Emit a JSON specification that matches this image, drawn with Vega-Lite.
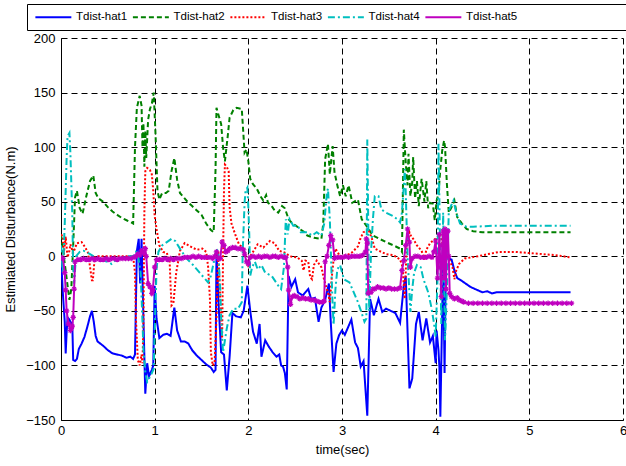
{
"$schema": "https://vega.github.io/schema/vega-lite/v6.json",
"width": 562, "height": 382,
"autosize": {"type": "none"},
"padding": {"left": 61, "top": 38, "right": 3, "bottom": 46},
"background": "white",
"config": {"font": "Liberation Sans", "view": {"stroke": null}},
"datasets": {
"d": [
{"s":"Tdist-hat1","t":0,"v":0},{"s":"Tdist-hat1","t":0.02,"v":-34},{"s":"Tdist-hat1","t":0.04,"v":-60},{"s":"Tdist-hat1","t":0.05,"v":-89},{"s":"Tdist-hat1","t":0.06,"v":-70},{"s":"Tdist-hat1","t":0.07,"v":-56},{"s":"Tdist-hat1","t":0.09,"v":-58},{"s":"Tdist-hat1","t":0.11,"v":-62},{"s":"Tdist-hat1","t":0.12,"v":-60},{"s":"Tdist-hat1","t":0.13,"v":-95},{"s":"Tdist-hat1","t":0.15,"v":-96},{"s":"Tdist-hat1","t":0.17,"v":-94},{"s":"Tdist-hat1","t":0.19,"v":-85},{"s":"Tdist-hat1","t":0.22,"v":-80},{"s":"Tdist-hat1","t":0.25,"v":-74},{"s":"Tdist-hat1","t":0.28,"v":-65},{"s":"Tdist-hat1","t":0.31,"v":-55},{"s":"Tdist-hat1","t":0.33,"v":-50},{"s":"Tdist-hat1","t":0.35,"v":-60},{"s":"Tdist-hat1","t":0.37,"v":-73},{"s":"Tdist-hat1","t":0.39,"v":-78},{"s":"Tdist-hat1","t":0.42,"v":-80},{"s":"Tdist-hat1","t":0.45,"v":-82},{"s":"Tdist-hat1","t":0.5,"v":-86},{"s":"Tdist-hat1","t":0.55,"v":-89},{"s":"Tdist-hat1","t":0.6,"v":-90},{"s":"Tdist-hat1","t":0.65,"v":-91},{"s":"Tdist-hat1","t":0.7,"v":-93},{"s":"Tdist-hat1","t":0.74,"v":-92},{"s":"Tdist-hat1","t":0.77,"v":-94},{"s":"Tdist-hat1","t":0.79,"v":-90},{"s":"Tdist-hat1","t":0.81,"v":5},{"s":"Tdist-hat1","t":0.83,"v":16},{"s":"Tdist-hat1","t":0.845,"v":-25},{"s":"Tdist-hat1","t":0.86,"v":16},{"s":"Tdist-hat1","t":0.88,"v":-57},{"s":"Tdist-hat1","t":0.9,"v":-126},{"s":"Tdist-hat1","t":0.92,"v":-98},{"s":"Tdist-hat1","t":0.94,"v":-110},{"s":"Tdist-hat1","t":0.97,"v":-104},{"s":"Tdist-hat1","t":0.985,"v":-100},{"s":"Tdist-hat1","t":1.0,"v":-27},{"s":"Tdist-hat1","t":1.02,"v":-57},{"s":"Tdist-hat1","t":1.05,"v":-75},{"s":"Tdist-hat1","t":1.09,"v":-72},{"s":"Tdist-hat1","t":1.13,"v":-71},{"s":"Tdist-hat1","t":1.17,"v":-73},{"s":"Tdist-hat1","t":1.21,"v":-47},{"s":"Tdist-hat1","t":1.24,"v":-68},{"s":"Tdist-hat1","t":1.28,"v":-78},{"s":"Tdist-hat1","t":1.32,"v":-78},{"s":"Tdist-hat1","t":1.36,"v":-80},{"s":"Tdist-hat1","t":1.4,"v":-86},{"s":"Tdist-hat1","t":1.45,"v":-91},{"s":"Tdist-hat1","t":1.5,"v":-95},{"s":"Tdist-hat1","t":1.55,"v":-99},{"s":"Tdist-hat1","t":1.6,"v":-102},{"s":"Tdist-hat1","t":1.63,"v":-106},{"s":"Tdist-hat1","t":1.65,"v":-104},{"s":"Tdist-hat1","t":1.66,"v":5},{"s":"Tdist-hat1","t":1.68,"v":-40},{"s":"Tdist-hat1","t":1.71,"v":-88},{"s":"Tdist-hat1","t":1.74,"v":-90},{"s":"Tdist-hat1","t":1.77,"v":-123},{"s":"Tdist-hat1","t":1.8,"v":-92},{"s":"Tdist-hat1","t":1.83,"v":-52},{"s":"Tdist-hat1","t":1.87,"v":-55},{"s":"Tdist-hat1","t":1.92,"v":-56},{"s":"Tdist-hat1","t":1.95,"v":-50},{"s":"Tdist-hat1","t":1.99,"v":-27},{"s":"Tdist-hat1","t":2.02,"v":-50},{"s":"Tdist-hat1","t":2.05,"v":-69},{"s":"Tdist-hat1","t":2.09,"v":-80},{"s":"Tdist-hat1","t":2.12,"v":-62},{"s":"Tdist-hat1","t":2.14,"v":-92},{"s":"Tdist-hat1","t":2.18,"v":-77},{"s":"Tdist-hat1","t":2.22,"v":-83},{"s":"Tdist-hat1","t":2.26,"v":-88},{"s":"Tdist-hat1","t":2.3,"v":-92},{"s":"Tdist-hat1","t":2.33,"v":-90},{"s":"Tdist-hat1","t":2.35,"v":-100},{"s":"Tdist-hat1","t":2.37,"v":-101},{"s":"Tdist-hat1","t":2.39,"v":-107},{"s":"Tdist-hat1","t":2.41,"v":-122},{"s":"Tdist-hat1","t":2.43,"v":-18},{"s":"Tdist-hat1","t":2.46,"v":-28},{"s":"Tdist-hat1","t":2.5,"v":-21},{"s":"Tdist-hat1","t":2.53,"v":-33},{"s":"Tdist-hat1","t":2.58,"v":-36},{"s":"Tdist-hat1","t":2.64,"v":-30},{"s":"Tdist-hat1","t":2.67,"v":-39},{"s":"Tdist-hat1","t":2.71,"v":-38},{"s":"Tdist-hat1","t":2.75,"v":-60},{"s":"Tdist-hat1","t":2.78,"v":-47},{"s":"Tdist-hat1","t":2.82,"v":-40},{"s":"Tdist-hat1","t":2.86,"v":-25},{"s":"Tdist-hat1","t":2.88,"v":-60},{"s":"Tdist-hat1","t":2.91,"v":-106},{"s":"Tdist-hat1","t":2.94,"v":-80},{"s":"Tdist-hat1","t":2.97,"v":-72},{"s":"Tdist-hat1","t":3.0,"v":-68},{"s":"Tdist-hat1","t":3.03,"v":-72},{"s":"Tdist-hat1","t":3.06,"v":-66},{"s":"Tdist-hat1","t":3.1,"v":-58},{"s":"Tdist-hat1","t":3.14,"v":-79},{"s":"Tdist-hat1","t":3.17,"v":-84},{"s":"Tdist-hat1","t":3.2,"v":-101},{"s":"Tdist-hat1","t":3.23,"v":-96},{"s":"Tdist-hat1","t":3.27,"v":-146},{"s":"Tdist-hat1","t":3.3,"v":-39},{"s":"Tdist-hat1","t":3.34,"v":-54},{"s":"Tdist-hat1","t":3.39,"v":-39},{"s":"Tdist-hat1","t":3.43,"v":-51},{"s":"Tdist-hat1","t":3.47,"v":-48},{"s":"Tdist-hat1","t":3.52,"v":-50},{"s":"Tdist-hat1","t":3.57,"v":-52},{"s":"Tdist-hat1","t":3.62,"v":-61},{"s":"Tdist-hat1","t":3.66,"v":-27},{"s":"Tdist-hat1","t":3.68,"v":-18},{"s":"Tdist-hat1","t":3.72,"v":-121},{"s":"Tdist-hat1","t":3.75,"v":-112},{"s":"Tdist-hat1","t":3.79,"v":-62},{"s":"Tdist-hat1","t":3.82,"v":-51},{"s":"Tdist-hat1","t":3.86,"v":-77},{"s":"Tdist-hat1","t":3.9,"v":-57},{"s":"Tdist-hat1","t":3.94,"v":-79},{"s":"Tdist-hat1","t":3.97,"v":-73},{"s":"Tdist-hat1","t":4.0,"v":-98},{"s":"Tdist-hat1","t":4.01,"v":-68},{"s":"Tdist-hat1","t":4.03,"v":-86},{"s":"Tdist-hat1","t":4.04,"v":-102},{"s":"Tdist-hat1","t":4.05,"v":-147},{"s":"Tdist-hat1","t":4.07,"v":-50},{"s":"Tdist-hat1","t":4.08,"v":-1},{"s":"Tdist-hat1","t":4.095,"v":-107},{"s":"Tdist-hat1","t":4.11,"v":-1},{"s":"Tdist-hat1","t":4.14,"v":-2},{"s":"Tdist-hat1","t":4.17,"v":-3},{"s":"Tdist-hat1","t":4.2,"v":-13},{"s":"Tdist-hat1","t":4.23,"v":-20},{"s":"Tdist-hat1","t":4.27,"v":-22},{"s":"Tdist-hat1","t":4.32,"v":-25},{"s":"Tdist-hat1","t":4.37,"v":-28},{"s":"Tdist-hat1","t":4.42,"v":-30},{"s":"Tdist-hat1","t":4.5,"v":-33},{"s":"Tdist-hat1","t":4.55,"v":-32},{"s":"Tdist-hat1","t":4.6,"v":-34},{"s":"Tdist-hat1","t":4.65,"v":-33},{"s":"Tdist-hat1","t":4.7,"v":-33},{"s":"Tdist-hat1","t":5.0,"v":-33},{"s":"Tdist-hat1","t":5.44,"v":-33},

{"s":"Tdist-hat2","t":0,"v":20},{"s":"Tdist-hat2","t":0.03,"v":0},{"s":"Tdist-hat2","t":0.06,"v":-20},{"s":"Tdist-hat2","t":0.09,"v":-40},{"s":"Tdist-hat2","t":0.11,"v":-30},{"s":"Tdist-hat2","t":0.13,"v":10},{"s":"Tdist-hat2","t":0.15,"v":54},{"s":"Tdist-hat2","t":0.17,"v":60},{"s":"Tdist-hat2","t":0.2,"v":44},{"s":"Tdist-hat2","t":0.23,"v":39},{"s":"Tdist-hat2","t":0.27,"v":55},{"s":"Tdist-hat2","t":0.31,"v":69},{"s":"Tdist-hat2","t":0.345,"v":74},{"s":"Tdist-hat2","t":0.37,"v":58},{"s":"Tdist-hat2","t":0.4,"v":53},{"s":"Tdist-hat2","t":0.45,"v":50},{"s":"Tdist-hat2","t":0.5,"v":45},{"s":"Tdist-hat2","t":0.55,"v":41},{"s":"Tdist-hat2","t":0.6,"v":38},{"s":"Tdist-hat2","t":0.65,"v":35},{"s":"Tdist-hat2","t":0.7,"v":33},{"s":"Tdist-hat2","t":0.75,"v":31},{"s":"Tdist-hat2","t":0.77,"v":30},{"s":"Tdist-hat2","t":0.79,"v":100},{"s":"Tdist-hat2","t":0.81,"v":136},{"s":"Tdist-hat2","t":0.84,"v":147},{"s":"Tdist-hat2","t":0.86,"v":138},{"s":"Tdist-hat2","t":0.87,"v":100},{"s":"Tdist-hat2","t":0.88,"v":122},{"s":"Tdist-hat2","t":0.89,"v":82},{"s":"Tdist-hat2","t":0.9,"v":115},{"s":"Tdist-hat2","t":0.91,"v":90},{"s":"Tdist-hat2","t":0.93,"v":125},{"s":"Tdist-hat2","t":0.95,"v":135},{"s":"Tdist-hat2","t":0.97,"v":140},{"s":"Tdist-hat2","t":0.99,"v":150},{"s":"Tdist-hat2","t":1.01,"v":110},{"s":"Tdist-hat2","t":1.03,"v":60},{"s":"Tdist-hat2","t":1.05,"v":52},{"s":"Tdist-hat2","t":1.08,"v":58},{"s":"Tdist-hat2","t":1.12,"v":58},{"s":"Tdist-hat2","t":1.15,"v":60},{"s":"Tdist-hat2","t":1.18,"v":78},{"s":"Tdist-hat2","t":1.21,"v":90},{"s":"Tdist-hat2","t":1.24,"v":70},{"s":"Tdist-hat2","t":1.27,"v":58},{"s":"Tdist-hat2","t":1.3,"v":55},{"s":"Tdist-hat2","t":1.35,"v":50},{"s":"Tdist-hat2","t":1.4,"v":46},{"s":"Tdist-hat2","t":1.45,"v":42},{"s":"Tdist-hat2","t":1.5,"v":38},{"s":"Tdist-hat2","t":1.55,"v":30},{"s":"Tdist-hat2","t":1.6,"v":24},{"s":"Tdist-hat2","t":1.63,"v":22},{"s":"Tdist-hat2","t":1.65,"v":80},{"s":"Tdist-hat2","t":1.66,"v":136},{"s":"Tdist-hat2","t":1.68,"v":130},{"s":"Tdist-hat2","t":1.71,"v":121},{"s":"Tdist-hat2","t":1.73,"v":100},{"s":"Tdist-hat2","t":1.75,"v":87},{"s":"Tdist-hat2","t":1.78,"v":110},{"s":"Tdist-hat2","t":1.8,"v":127},{"s":"Tdist-hat2","t":1.84,"v":134},{"s":"Tdist-hat2","t":1.875,"v":136},{"s":"Tdist-hat2","t":1.93,"v":135},{"s":"Tdist-hat2","t":1.96,"v":95},{"s":"Tdist-hat2","t":1.98,"v":98},{"s":"Tdist-hat2","t":2.0,"v":87},{"s":"Tdist-hat2","t":2.02,"v":71},{"s":"Tdist-hat2","t":2.05,"v":66},{"s":"Tdist-hat2","t":2.09,"v":62},{"s":"Tdist-hat2","t":2.13,"v":55},{"s":"Tdist-hat2","t":2.16,"v":51},{"s":"Tdist-hat2","t":2.19,"v":56},{"s":"Tdist-hat2","t":2.21,"v":49},{"s":"Tdist-hat2","t":2.25,"v":46},{"s":"Tdist-hat2","t":2.28,"v":42},{"s":"Tdist-hat2","t":2.32,"v":40},{"s":"Tdist-hat2","t":2.36,"v":46},{"s":"Tdist-hat2","t":2.39,"v":44},{"s":"Tdist-hat2","t":2.43,"v":34},{"s":"Tdist-hat2","t":2.47,"v":30},{"s":"Tdist-hat2","t":2.51,"v":28},{"s":"Tdist-hat2","t":2.55,"v":25},{"s":"Tdist-hat2","t":2.6,"v":22},{"s":"Tdist-hat2","t":2.63,"v":19},{"s":"Tdist-hat2","t":2.7,"v":17},{"s":"Tdist-hat2","t":2.78,"v":16},{"s":"Tdist-hat2","t":2.8,"v":30},{"s":"Tdist-hat2","t":2.82,"v":89},{"s":"Tdist-hat2","t":2.85,"v":103},{"s":"Tdist-hat2","t":2.87,"v":75},{"s":"Tdist-hat2","t":2.9,"v":101},{"s":"Tdist-hat2","t":2.92,"v":77},{"s":"Tdist-hat2","t":2.95,"v":65},{"s":"Tdist-hat2","t":2.98,"v":55},{"s":"Tdist-hat2","t":3.01,"v":65},{"s":"Tdist-hat2","t":3.04,"v":55},{"s":"Tdist-hat2","t":3.07,"v":65},{"s":"Tdist-hat2","t":3.11,"v":49},{"s":"Tdist-hat2","t":3.17,"v":52},{"s":"Tdist-hat2","t":3.21,"v":34},{"s":"Tdist-hat2","t":3.26,"v":28},{"s":"Tdist-hat2","t":3.33,"v":19},{"s":"Tdist-hat2","t":3.4,"v":16},{"s":"Tdist-hat2","t":3.47,"v":13},{"s":"Tdist-hat2","t":3.55,"v":10},{"s":"Tdist-hat2","t":3.62,"v":7},{"s":"Tdist-hat2","t":3.64,"v":4},{"s":"Tdist-hat2","t":3.65,"v":60},{"s":"Tdist-hat2","t":3.66,"v":116},{"s":"Tdist-hat2","t":3.68,"v":86},{"s":"Tdist-hat2","t":3.7,"v":65},{"s":"Tdist-hat2","t":3.71,"v":94},{"s":"Tdist-hat2","t":3.73,"v":55},{"s":"Tdist-hat2","t":3.75,"v":68},{"s":"Tdist-hat2","t":3.76,"v":91},{"s":"Tdist-hat2","t":3.78,"v":53},{"s":"Tdist-hat2","t":3.8,"v":69},{"s":"Tdist-hat2","t":3.82,"v":46},{"s":"Tdist-hat2","t":3.85,"v":71},{"s":"Tdist-hat2","t":3.88,"v":50},{"s":"Tdist-hat2","t":3.9,"v":69},{"s":"Tdist-hat2","t":3.92,"v":44},{"s":"Tdist-hat2","t":3.94,"v":49},{"s":"Tdist-hat2","t":3.97,"v":48},{"s":"Tdist-hat2","t":3.99,"v":33},{"s":"Tdist-hat2","t":4.01,"v":51},{"s":"Tdist-hat2","t":4.03,"v":57},{"s":"Tdist-hat2","t":4.05,"v":80},{"s":"Tdist-hat2","t":4.07,"v":97},{"s":"Tdist-hat2","t":4.09,"v":106},{"s":"Tdist-hat2","t":4.1,"v":100},{"s":"Tdist-hat2","t":4.12,"v":66},{"s":"Tdist-hat2","t":4.14,"v":40},{"s":"Tdist-hat2","t":4.17,"v":45},{"s":"Tdist-hat2","t":4.2,"v":51},{"s":"Tdist-hat2","t":4.23,"v":36},{"s":"Tdist-hat2","t":4.28,"v":30},{"s":"Tdist-hat2","t":4.33,"v":25},{"s":"Tdist-hat2","t":4.4,"v":23},{"s":"Tdist-hat2","t":4.5,"v":22},{"s":"Tdist-hat2","t":5.0,"v":22},{"s":"Tdist-hat2","t":5.44,"v":22},

{"s":"Tdist-hat3","t":0,"v":20},{"s":"Tdist-hat3","t":0.02,"v":18},{"s":"Tdist-hat3","t":0.03,"v":2},{"s":"Tdist-hat3","t":0.05,"v":18},{"s":"Tdist-hat3","t":0.07,"v":-1},{"s":"Tdist-hat3","t":0.09,"v":5},{"s":"Tdist-hat3","t":0.1,"v":11},{"s":"Tdist-hat3","t":0.13,"v":3},{"s":"Tdist-hat3","t":0.17,"v":12},{"s":"Tdist-hat3","t":0.22,"v":13},{"s":"Tdist-hat3","t":0.26,"v":8},{"s":"Tdist-hat3","t":0.29,"v":3},{"s":"Tdist-hat3","t":0.31,"v":-10},{"s":"Tdist-hat3","t":0.33,"v":-22},{"s":"Tdist-hat3","t":0.34,"v":-22},{"s":"Tdist-hat3","t":0.36,"v":-1},{"s":"Tdist-hat3","t":0.4,"v":0},{"s":"Tdist-hat3","t":0.5,"v":0},{"s":"Tdist-hat3","t":0.6,"v":0},{"s":"Tdist-hat3","t":0.7,"v":0},{"s":"Tdist-hat3","t":0.77,"v":0},{"s":"Tdist-hat3","t":0.79,"v":-15},{"s":"Tdist-hat3","t":0.8,"v":-57},{"s":"Tdist-hat3","t":0.82,"v":-95},{"s":"Tdist-hat3","t":0.84,"v":-100},{"s":"Tdist-hat3","t":0.86,"v":-90},{"s":"Tdist-hat3","t":0.87,"v":-98},{"s":"Tdist-hat3","t":0.88,"v":-60},{"s":"Tdist-hat3","t":0.89,"v":40},{"s":"Tdist-hat3","t":0.9,"v":78},{"s":"Tdist-hat3","t":0.92,"v":81},{"s":"Tdist-hat3","t":0.95,"v":79},{"s":"Tdist-hat3","t":0.97,"v":75},{"s":"Tdist-hat3","t":0.985,"v":60},{"s":"Tdist-hat3","t":1.0,"v":37},{"s":"Tdist-hat3","t":1.02,"v":25},{"s":"Tdist-hat3","t":1.05,"v":10},{"s":"Tdist-hat3","t":1.09,"v":4},{"s":"Tdist-hat3","t":1.13,"v":3},{"s":"Tdist-hat3","t":1.16,"v":-5},{"s":"Tdist-hat3","t":1.17,"v":-27},{"s":"Tdist-hat3","t":1.18,"v":-45},{"s":"Tdist-hat3","t":1.2,"v":-43},{"s":"Tdist-hat3","t":1.23,"v":-15},{"s":"Tdist-hat3","t":1.27,"v":5},{"s":"Tdist-hat3","t":1.32,"v":12},{"s":"Tdist-hat3","t":1.38,"v":9},{"s":"Tdist-hat3","t":1.45,"v":6},{"s":"Tdist-hat3","t":1.51,"v":7},{"s":"Tdist-hat3","t":1.55,"v":4},{"s":"Tdist-hat3","t":1.57,"v":-9},{"s":"Tdist-hat3","t":1.59,"v":-39},{"s":"Tdist-hat3","t":1.6,"v":-88},{"s":"Tdist-hat3","t":1.62,"v":-100},{"s":"Tdist-hat3","t":1.64,"v":-98},{"s":"Tdist-hat3","t":1.66,"v":-56},{"s":"Tdist-hat3","t":1.68,"v":5},{"s":"Tdist-hat3","t":1.7,"v":-40},{"s":"Tdist-hat3","t":1.72,"v":-77},{"s":"Tdist-hat3","t":1.73,"v":0},{"s":"Tdist-hat3","t":1.74,"v":60},{"s":"Tdist-hat3","t":1.75,"v":84},{"s":"Tdist-hat3","t":1.77,"v":82},{"s":"Tdist-hat3","t":1.79,"v":78},{"s":"Tdist-hat3","t":1.8,"v":45},{"s":"Tdist-hat3","t":1.82,"v":30},{"s":"Tdist-hat3","t":1.86,"v":20},{"s":"Tdist-hat3","t":1.9,"v":11},{"s":"Tdist-hat3","t":1.95,"v":7},{"s":"Tdist-hat3","t":1.97,"v":0},{"s":"Tdist-hat3","t":2.0,"v":-10},{"s":"Tdist-hat3","t":2.02,"v":0},{"s":"Tdist-hat3","t":2.1,"v":11},{"s":"Tdist-hat3","t":2.16,"v":8},{"s":"Tdist-hat3","t":2.23,"v":14},{"s":"Tdist-hat3","t":2.28,"v":12},{"s":"Tdist-hat3","t":2.33,"v":5},{"s":"Tdist-hat3","t":2.4,"v":3},{"s":"Tdist-hat3","t":2.44,"v":0},{"s":"Tdist-hat3","t":2.52,"v":-1},{"s":"Tdist-hat3","t":2.57,"v":-4},{"s":"Tdist-hat3","t":2.59,"v":-13},{"s":"Tdist-hat3","t":2.61,"v":-4},{"s":"Tdist-hat3","t":2.64,"v":-5},{"s":"Tdist-hat3","t":2.66,"v":-19},{"s":"Tdist-hat3","t":2.68,"v":-21},{"s":"Tdist-hat3","t":2.7,"v":-8},{"s":"Tdist-hat3","t":2.73,"v":-4},{"s":"Tdist-hat3","t":2.78,"v":-10},{"s":"Tdist-hat3","t":2.81,"v":-22},{"s":"Tdist-hat3","t":2.85,"v":-33},{"s":"Tdist-hat3","t":2.87,"v":-42},{"s":"Tdist-hat3","t":2.89,"v":-20},{"s":"Tdist-hat3","t":2.91,"v":-3},{"s":"Tdist-hat3","t":2.93,"v":7},{"s":"Tdist-hat3","t":2.98,"v":0},{"s":"Tdist-hat3","t":3.05,"v":1},{"s":"Tdist-hat3","t":3.1,"v":3},{"s":"Tdist-hat3","t":3.17,"v":9},{"s":"Tdist-hat3","t":3.2,"v":17},{"s":"Tdist-hat3","t":3.23,"v":22},{"s":"Tdist-hat3","t":3.28,"v":25},{"s":"Tdist-hat3","t":3.32,"v":16},{"s":"Tdist-hat3","t":3.35,"v":7},{"s":"Tdist-hat3","t":3.42,"v":4},{"s":"Tdist-hat3","t":3.47,"v":2},{"s":"Tdist-hat3","t":3.55,"v":1},{"s":"Tdist-hat3","t":3.62,"v":-3},{"s":"Tdist-hat3","t":3.64,"v":-8},{"s":"Tdist-hat3","t":3.65,"v":-15},{"s":"Tdist-hat3","t":3.66,"v":-27},{"s":"Tdist-hat3","t":3.67,"v":-39},{"s":"Tdist-hat3","t":3.68,"v":-15},{"s":"Tdist-hat3","t":3.69,"v":7},{"s":"Tdist-hat3","t":3.72,"v":22},{"s":"Tdist-hat3","t":3.74,"v":18},{"s":"Tdist-hat3","t":3.76,"v":16},{"s":"Tdist-hat3","t":3.8,"v":10},{"s":"Tdist-hat3","t":3.85,"v":5},{"s":"Tdist-hat3","t":3.88,"v":-3},{"s":"Tdist-hat3","t":3.9,"v":6},{"s":"Tdist-hat3","t":3.94,"v":12},{"s":"Tdist-hat3","t":3.98,"v":15},{"s":"Tdist-hat3","t":4.01,"v":17},{"s":"Tdist-hat3","t":4.05,"v":20},{"s":"Tdist-hat3","t":4.08,"v":8},{"s":"Tdist-hat3","t":4.11,"v":-2},{"s":"Tdist-hat3","t":4.15,"v":-4},{"s":"Tdist-hat3","t":4.18,"v":-10},{"s":"Tdist-hat3","t":4.2,"v":-21},{"s":"Tdist-hat3","t":4.22,"v":-13},{"s":"Tdist-hat3","t":4.25,"v":-7},{"s":"Tdist-hat3","t":4.31,"v":-2},{"s":"Tdist-hat3","t":4.45,"v":0},{"s":"Tdist-hat3","t":4.56,"v":2},{"s":"Tdist-hat3","t":4.68,"v":4},{"s":"Tdist-hat3","t":4.85,"v":4},{"s":"Tdist-hat3","t":5.0,"v":3},{"s":"Tdist-hat3","t":5.14,"v":2},{"s":"Tdist-hat3","t":5.28,"v":1},{"s":"Tdist-hat3","t":5.44,"v":-1},

{"s":"Tdist-hat4","t":0,"v":10},{"s":"Tdist-hat4","t":0.02,"v":-15},{"s":"Tdist-hat4","t":0.04,"v":30},{"s":"Tdist-hat4","t":0.06,"v":90},{"s":"Tdist-hat4","t":0.07,"v":110},{"s":"Tdist-hat4","t":0.09,"v":113},{"s":"Tdist-hat4","t":0.1,"v":95},{"s":"Tdist-hat4","t":0.12,"v":40},{"s":"Tdist-hat4","t":0.13,"v":-10},{"s":"Tdist-hat4","t":0.14,"v":-25},{"s":"Tdist-hat4","t":0.16,"v":0},{"s":"Tdist-hat4","t":0.2,"v":4},{"s":"Tdist-hat4","t":0.24,"v":5},{"s":"Tdist-hat4","t":0.27,"v":4},{"s":"Tdist-hat4","t":0.31,"v":2},{"s":"Tdist-hat4","t":0.39,"v":-2},{"s":"Tdist-hat4","t":0.45,"v":-4},{"s":"Tdist-hat4","t":0.5,"v":-5},{"s":"Tdist-hat4","t":0.54,"v":-7},{"s":"Tdist-hat4","t":0.59,"v":-3},{"s":"Tdist-hat4","t":0.64,"v":-2},{"s":"Tdist-hat4","t":0.71,"v":0},{"s":"Tdist-hat4","t":0.77,"v":0},{"s":"Tdist-hat4","t":0.8,"v":4},{"s":"Tdist-hat4","t":0.82,"v":2},{"s":"Tdist-hat4","t":0.85,"v":-15},{"s":"Tdist-hat4","t":0.87,"v":-60},{"s":"Tdist-hat4","t":0.88,"v":-86},{"s":"Tdist-hat4","t":0.9,"v":-106},{"s":"Tdist-hat4","t":0.92,"v":-115},{"s":"Tdist-hat4","t":0.94,"v":-112},{"s":"Tdist-hat4","t":0.96,"v":-109},{"s":"Tdist-hat4","t":0.99,"v":-103},{"s":"Tdist-hat4","t":1.0,"v":-70},{"s":"Tdist-hat4","t":1.01,"v":-40},{"s":"Tdist-hat4","t":1.02,"v":-12},{"s":"Tdist-hat4","t":1.04,"v":4},{"s":"Tdist-hat4","t":1.08,"v":10},{"s":"Tdist-hat4","t":1.13,"v":13},{"s":"Tdist-hat4","t":1.18,"v":16},{"s":"Tdist-hat4","t":1.22,"v":14},{"s":"Tdist-hat4","t":1.27,"v":7},{"s":"Tdist-hat4","t":1.34,"v":-2},{"s":"Tdist-hat4","t":1.41,"v":-8},{"s":"Tdist-hat4","t":1.48,"v":-15},{"s":"Tdist-hat4","t":1.54,"v":-21},{"s":"Tdist-hat4","t":1.57,"v":-24},{"s":"Tdist-hat4","t":1.6,"v":-18},{"s":"Tdist-hat4","t":1.64,"v":-2},{"s":"Tdist-hat4","t":1.66,"v":7},{"s":"Tdist-hat4","t":1.68,"v":2},{"s":"Tdist-hat4","t":1.7,"v":-30},{"s":"Tdist-hat4","t":1.71,"v":-57},{"s":"Tdist-hat4","t":1.73,"v":-88},{"s":"Tdist-hat4","t":1.75,"v":-77},{"s":"Tdist-hat4","t":1.77,"v":-66},{"s":"Tdist-hat4","t":1.8,"v":-54},{"s":"Tdist-hat4","t":1.84,"v":-48},{"s":"Tdist-hat4","t":1.89,"v":-48},{"s":"Tdist-hat4","t":1.93,"v":-42},{"s":"Tdist-hat4","t":1.94,"v":4},{"s":"Tdist-hat4","t":1.96,"v":49},{"s":"Tdist-hat4","t":1.97,"v":60},{"s":"Tdist-hat4","t":1.99,"v":63},{"s":"Tdist-hat4","t":2.0,"v":45},{"s":"Tdist-hat4","t":2.01,"v":20},{"s":"Tdist-hat4","t":2.02,"v":-18},{"s":"Tdist-hat4","t":2.04,"v":-10},{"s":"Tdist-hat4","t":2.07,"v":-5},{"s":"Tdist-hat4","t":2.1,"v":-12},{"s":"Tdist-hat4","t":2.14,"v":-8},{"s":"Tdist-hat4","t":2.18,"v":-15},{"s":"Tdist-hat4","t":2.25,"v":-18},{"s":"Tdist-hat4","t":2.32,"v":-27},{"s":"Tdist-hat4","t":2.35,"v":-30},{"s":"Tdist-hat4","t":2.38,"v":-10},{"s":"Tdist-hat4","t":2.4,"v":34},{"s":"Tdist-hat4","t":2.42,"v":20},{"s":"Tdist-hat4","t":2.44,"v":34},{"s":"Tdist-hat4","t":2.48,"v":28},{"s":"Tdist-hat4","t":2.53,"v":28},{"s":"Tdist-hat4","t":2.56,"v":22},{"s":"Tdist-hat4","t":2.63,"v":22},{"s":"Tdist-hat4","t":2.68,"v":19},{"s":"Tdist-hat4","t":2.73,"v":22},{"s":"Tdist-hat4","t":2.78,"v":19},{"s":"Tdist-hat4","t":2.81,"v":30},{"s":"Tdist-hat4","t":2.84,"v":59},{"s":"Tdist-hat4","t":2.85,"v":62},{"s":"Tdist-hat4","t":2.87,"v":34},{"s":"Tdist-hat4","t":2.89,"v":-20},{"s":"Tdist-hat4","t":2.9,"v":-45},{"s":"Tdist-hat4","t":2.91,"v":-63},{"s":"Tdist-hat4","t":2.93,"v":-30},{"s":"Tdist-hat4","t":2.95,"v":-12},{"s":"Tdist-hat4","t":2.98,"v":-8},{"s":"Tdist-hat4","t":3.02,"v":-21},{"s":"Tdist-hat4","t":3.08,"v":-24},{"s":"Tdist-hat4","t":3.17,"v":-42},{"s":"Tdist-hat4","t":3.21,"v":-52},{"s":"Tdist-hat4","t":3.24,"v":-60},{"s":"Tdist-hat4","t":3.26,"v":-57},{"s":"Tdist-hat4","t":3.27,"v":107},{"s":"Tdist-hat4","t":3.28,"v":30},{"s":"Tdist-hat4","t":3.29,"v":-50},{"s":"Tdist-hat4","t":3.31,"v":4},{"s":"Tdist-hat4","t":3.33,"v":34},{"s":"Tdist-hat4","t":3.35,"v":55},{"s":"Tdist-hat4","t":3.39,"v":55},{"s":"Tdist-hat4","t":3.42,"v":43},{"s":"Tdist-hat4","t":3.47,"v":40},{"s":"Tdist-hat4","t":3.54,"v":37},{"s":"Tdist-hat4","t":3.59,"v":34},{"s":"Tdist-hat4","t":3.62,"v":31},{"s":"Tdist-hat4","t":3.64,"v":40},{"s":"Tdist-hat4","t":3.66,"v":65},{"s":"Tdist-hat4","t":3.67,"v":80},{"s":"Tdist-hat4","t":3.68,"v":60},{"s":"Tdist-hat4","t":3.7,"v":0},{"s":"Tdist-hat4","t":3.73,"v":-51},{"s":"Tdist-hat4","t":3.75,"v":-30},{"s":"Tdist-hat4","t":3.77,"v":-15},{"s":"Tdist-hat4","t":3.8,"v":-8},{"s":"Tdist-hat4","t":3.84,"v":-10},{"s":"Tdist-hat4","t":3.87,"v":-21},{"s":"Tdist-hat4","t":3.92,"v":-33},{"s":"Tdist-hat4","t":3.95,"v":-45},{"s":"Tdist-hat4","t":3.98,"v":-60},{"s":"Tdist-hat4","t":4.0,"v":-74},{"s":"Tdist-hat4","t":4.02,"v":-20},{"s":"Tdist-hat4","t":4.03,"v":103},{"s":"Tdist-hat4","t":4.04,"v":50},{"s":"Tdist-hat4","t":4.05,"v":-10},{"s":"Tdist-hat4","t":4.06,"v":-62},{"s":"Tdist-hat4","t":4.08,"v":40},{"s":"Tdist-hat4","t":4.1,"v":-77},{"s":"Tdist-hat4","t":4.12,"v":-30},{"s":"Tdist-hat4","t":4.14,"v":42},{"s":"Tdist-hat4","t":4.19,"v":51},{"s":"Tdist-hat4","t":4.22,"v":40},{"s":"Tdist-hat4","t":4.26,"v":30},{"s":"Tdist-hat4","t":4.33,"v":27},{"s":"Tdist-hat4","t":4.4,"v":27},{"s":"Tdist-hat4","t":4.6,"v":28},{"s":"Tdist-hat4","t":5.0,"v":28},{"s":"Tdist-hat4","t":5.44,"v":28},

{"s":"Tdist-hat5","t":0,"v":-1},{"s":"Tdist-hat5","t":0.02,"v":-2},{"s":"Tdist-hat5","t":0.04,"v":-15},{"s":"Tdist-hat5","t":0.05,"v":-31},{"s":"Tdist-hat5","t":0.06,"v":-50},{"s":"Tdist-hat5","t":0.08,"v":-62},{"s":"Tdist-hat5","t":0.1,"v":-68},{"s":"Tdist-hat5","t":0.11,"v":-66},{"s":"Tdist-hat5","t":0.12,"v":-64},{"s":"Tdist-hat5","t":0.13,"v":-56},{"s":"Tdist-hat5","t":0.14,"v":-30},{"s":"Tdist-hat5","t":0.15,"v":-5},{"s":"Tdist-hat5","t":0.18,"v":-3},{"s":"Tdist-hat5","t":0.21,"v":-3},{"s":"Tdist-hat5","t":0.24,"v":-2},{"s":"Tdist-hat5","t":0.27,"v":-3},{"s":"Tdist-hat5","t":0.3,"v":-3},{"s":"Tdist-hat5","t":0.33,"v":-2},{"s":"Tdist-hat5","t":0.36,"v":-3},{"s":"Tdist-hat5","t":0.39,"v":-2},{"s":"Tdist-hat5","t":0.42,"v":-3},{"s":"Tdist-hat5","t":0.45,"v":-3},{"s":"Tdist-hat5","t":0.48,"v":-2},{"s":"Tdist-hat5","t":0.51,"v":-3},{"s":"Tdist-hat5","t":0.54,"v":-2},{"s":"Tdist-hat5","t":0.57,"v":-2},{"s":"Tdist-hat5","t":0.6,"v":-3},{"s":"Tdist-hat5","t":0.63,"v":-2},{"s":"Tdist-hat5","t":0.66,"v":-2},{"s":"Tdist-hat5","t":0.69,"v":-2},{"s":"Tdist-hat5","t":0.72,"v":-2},{"s":"Tdist-hat5","t":0.75,"v":-2},{"s":"Tdist-hat5","t":0.78,"v":-1},{"s":"Tdist-hat5","t":0.8,"v":0},{"s":"Tdist-hat5","t":0.82,"v":2},{"s":"Tdist-hat5","t":0.84,"v":1},{"s":"Tdist-hat5","t":0.86,"v":5},{"s":"Tdist-hat5","t":0.88,"v":3},{"s":"Tdist-hat5","t":0.9,"v":7},{"s":"Tdist-hat5","t":0.91,"v":0},{"s":"Tdist-hat5","t":0.93,"v":-25},{"s":"Tdist-hat5","t":0.95,"v":-28},{"s":"Tdist-hat5","t":0.97,"v":-34},{"s":"Tdist-hat5","t":0.98,"v":-31},{"s":"Tdist-hat5","t":1.0,"v":-10},{"s":"Tdist-hat5","t":1.02,"v":-3},{"s":"Tdist-hat5","t":1.05,"v":-3},{"s":"Tdist-hat5","t":1.08,"v":-3},{"s":"Tdist-hat5","t":1.11,"v":-2},{"s":"Tdist-hat5","t":1.14,"v":-3},{"s":"Tdist-hat5","t":1.17,"v":-2},{"s":"Tdist-hat5","t":1.2,"v":-3},{"s":"Tdist-hat5","t":1.23,"v":-2},{"s":"Tdist-hat5","t":1.26,"v":-2},{"s":"Tdist-hat5","t":1.29,"v":-2},{"s":"Tdist-hat5","t":1.32,"v":-1},{"s":"Tdist-hat5","t":1.35,"v":-1},{"s":"Tdist-hat5","t":1.38,"v":-1},{"s":"Tdist-hat5","t":1.41,"v":0},{"s":"Tdist-hat5","t":1.44,"v":-1},{"s":"Tdist-hat5","t":1.47,"v":0},{"s":"Tdist-hat5","t":1.5,"v":-1},{"s":"Tdist-hat5","t":1.53,"v":-1},{"s":"Tdist-hat5","t":1.56,"v":-1},{"s":"Tdist-hat5","t":1.59,"v":-1},{"s":"Tdist-hat5","t":1.62,"v":-2},{"s":"Tdist-hat5","t":1.64,"v":0},{"s":"Tdist-hat5","t":1.66,"v":4},{"s":"Tdist-hat5","t":1.68,"v":-2},{"s":"Tdist-hat5","t":1.7,"v":-2},{"s":"Tdist-hat5","t":1.72,"v":13},{"s":"Tdist-hat5","t":1.74,"v":10},{"s":"Tdist-hat5","t":1.76,"v":4},{"s":"Tdist-hat5","t":1.78,"v":5},{"s":"Tdist-hat5","t":1.8,"v":7},{"s":"Tdist-hat5","t":1.83,"v":8},{"s":"Tdist-hat5","t":1.86,"v":8},{"s":"Tdist-hat5","t":1.89,"v":7},{"s":"Tdist-hat5","t":1.92,"v":7},{"s":"Tdist-hat5","t":1.95,"v":6},{"s":"Tdist-hat5","t":1.96,"v":2},{"s":"Tdist-hat5","t":1.98,"v":-5},{"s":"Tdist-hat5","t":2.0,"v":-7},{"s":"Tdist-hat5","t":2.02,"v":-1},{"s":"Tdist-hat5","t":2.05,"v":0},{"s":"Tdist-hat5","t":2.08,"v":-1},{"s":"Tdist-hat5","t":2.11,"v":0},{"s":"Tdist-hat5","t":2.14,"v":-1},{"s":"Tdist-hat5","t":2.17,"v":0},{"s":"Tdist-hat5","t":2.2,"v":0},{"s":"Tdist-hat5","t":2.23,"v":-1},{"s":"Tdist-hat5","t":2.26,"v":0},{"s":"Tdist-hat5","t":2.29,"v":0},{"s":"Tdist-hat5","t":2.32,"v":-1},{"s":"Tdist-hat5","t":2.35,"v":0},{"s":"Tdist-hat5","t":2.38,"v":-1},{"s":"Tdist-hat5","t":2.4,"v":-1},{"s":"Tdist-hat5","t":2.42,"v":-10},{"s":"Tdist-hat5","t":2.43,"v":-31},{"s":"Tdist-hat5","t":2.45,"v":-44},{"s":"Tdist-hat5","t":2.47,"v":-37},{"s":"Tdist-hat5","t":2.49,"v":-36},{"s":"Tdist-hat5","t":2.52,"v":-37},{"s":"Tdist-hat5","t":2.55,"v":-39},{"s":"Tdist-hat5","t":2.58,"v":-38},{"s":"Tdist-hat5","t":2.61,"v":-39},{"s":"Tdist-hat5","t":2.64,"v":-39},{"s":"Tdist-hat5","t":2.67,"v":-40},{"s":"Tdist-hat5","t":2.7,"v":-40},{"s":"Tdist-hat5","t":2.73,"v":-41},{"s":"Tdist-hat5","t":2.76,"v":-42},{"s":"Tdist-hat5","t":2.79,"v":-42},{"s":"Tdist-hat5","t":2.81,"v":-41},{"s":"Tdist-hat5","t":2.82,"v":-5},{"s":"Tdist-hat5","t":2.84,"v":0},{"s":"Tdist-hat5","t":2.86,"v":10},{"s":"Tdist-hat5","t":2.88,"v":19},{"s":"Tdist-hat5","t":2.9,"v":15},{"s":"Tdist-hat5","t":2.92,"v":-2},{"s":"Tdist-hat5","t":2.95,"v":-1},{"s":"Tdist-hat5","t":2.98,"v":-1},{"s":"Tdist-hat5","t":3.01,"v":-1},{"s":"Tdist-hat5","t":3.04,"v":0},{"s":"Tdist-hat5","t":3.07,"v":-1},{"s":"Tdist-hat5","t":3.1,"v":0},{"s":"Tdist-hat5","t":3.13,"v":0},{"s":"Tdist-hat5","t":3.16,"v":0},{"s":"Tdist-hat5","t":3.19,"v":0},{"s":"Tdist-hat5","t":3.22,"v":1},{"s":"Tdist-hat5","t":3.25,"v":4},{"s":"Tdist-hat5","t":3.26,"v":16},{"s":"Tdist-hat5","t":3.27,"v":12},{"s":"Tdist-hat5","t":3.28,"v":-34},{"s":"Tdist-hat5","t":3.31,"v":-33},{"s":"Tdist-hat5","t":3.33,"v":-30},{"s":"Tdist-hat5","t":3.35,"v":-30},{"s":"Tdist-hat5","t":3.38,"v":-28},{"s":"Tdist-hat5","t":3.41,"v":-29},{"s":"Tdist-hat5","t":3.44,"v":-29},{"s":"Tdist-hat5","t":3.47,"v":-30},{"s":"Tdist-hat5","t":3.5,"v":-29},{"s":"Tdist-hat5","t":3.53,"v":-30},{"s":"Tdist-hat5","t":3.56,"v":-30},{"s":"Tdist-hat5","t":3.59,"v":-30},{"s":"Tdist-hat5","t":3.62,"v":-29},{"s":"Tdist-hat5","t":3.64,"v":-13},{"s":"Tdist-hat5","t":3.66,"v":-4},{"s":"Tdist-hat5","t":3.68,"v":10},{"s":"Tdist-hat5","t":3.7,"v":25},{"s":"Tdist-hat5","t":3.72,"v":13},{"s":"Tdist-hat5","t":3.73,"v":-10},{"s":"Tdist-hat5","t":3.75,"v":-2},{"s":"Tdist-hat5","t":3.78,"v":0},{"s":"Tdist-hat5","t":3.81,"v":0},{"s":"Tdist-hat5","t":3.84,"v":-1},{"s":"Tdist-hat5","t":3.87,"v":-1},{"s":"Tdist-hat5","t":3.9,"v":-1},{"s":"Tdist-hat5","t":3.93,"v":0},{"s":"Tdist-hat5","t":3.96,"v":-1},{"s":"Tdist-hat5","t":3.98,"v":4},{"s":"Tdist-hat5","t":4.0,"v":14},{"s":"Tdist-hat5","t":4.02,"v":-20},{"s":"Tdist-hat5","t":4.04,"v":20},{"s":"Tdist-hat5","t":4.05,"v":-10},{"s":"Tdist-hat5","t":4.06,"v":-37},{"s":"Tdist-hat5","t":4.07,"v":10},{"s":"Tdist-hat5","t":4.08,"v":23},{"s":"Tdist-hat5","t":4.09,"v":-20},{"s":"Tdist-hat5","t":4.1,"v":25},{"s":"Tdist-hat5","t":4.11,"v":-30},{"s":"Tdist-hat5","t":4.12,"v":23},{"s":"Tdist-hat5","t":4.13,"v":23},{"s":"Tdist-hat5","t":4.14,"v":0},{"s":"Tdist-hat5","t":4.15,"v":-34},{"s":"Tdist-hat5","t":4.17,"v":-37},{"s":"Tdist-hat5","t":4.2,"v":-39},{"s":"Tdist-hat5","t":4.23,"v":-38},{"s":"Tdist-hat5","t":4.25,"v":-40},{"s":"Tdist-hat5","t":4.28,"v":-41},{"s":"Tdist-hat5","t":4.3,"v":-42},{"s":"Tdist-hat5","t":4.35,"v":-43},{"s":"Tdist-hat5","t":4.4,"v":-43},{"s":"Tdist-hat5","t":4.45,"v":-43},{"s":"Tdist-hat5","t":4.5,"v":-43},{"s":"Tdist-hat5","t":4.55,"v":-43},{"s":"Tdist-hat5","t":4.6,"v":-43},{"s":"Tdist-hat5","t":4.65,"v":-43},{"s":"Tdist-hat5","t":4.7,"v":-43},{"s":"Tdist-hat5","t":4.75,"v":-43},{"s":"Tdist-hat5","t":4.8,"v":-43},{"s":"Tdist-hat5","t":4.85,"v":-43},{"s":"Tdist-hat5","t":4.9,"v":-43},{"s":"Tdist-hat5","t":4.95,"v":-43},{"s":"Tdist-hat5","t":5.0,"v":-43},{"s":"Tdist-hat5","t":5.05,"v":-43},{"s":"Tdist-hat5","t":5.1,"v":-43},{"s":"Tdist-hat5","t":5.15,"v":-43},{"s":"Tdist-hat5","t":5.2,"v":-43},{"s":"Tdist-hat5","t":5.25,"v":-43},{"s":"Tdist-hat5","t":5.3,"v":-43},{"s":"Tdist-hat5","t":5.35,"v":-43},{"s":"Tdist-hat5","t":5.4,"v":-43},{"s":"Tdist-hat5","t":5.45,"v":-43}
]},
"data": {"name": "d"},
"layer": [
{"mark": {"type": "line", "strokeWidth": 2, "clip": true, "strokeCap": "butt"},
 "encoding": {
  "x": {"field": "t", "type": "quantitative", "scale": {"domain": [0, 6], "nice": false},
        "axis": {"values": [0,1,2,3,4,5,6], "format": "d", "grid": true, "gridDash": [6,4], "gridColor": "#000", "gridOpacity": 1, "gridWidth": 1,
                 "domainColor": "#000", "domainWidth": 1, "ticks": false, "labelFontSize": 13, "labelColor": "#000", "labelPadding": 4, "labelFlush": false,
                 "title": "time(sec)", "titleFontSize": 13, "titleFontWeight": "normal", "titleColor": "#000", "titlePadding": 6}},
  "y": {"field": "v", "type": "quantitative", "scale": {"domain": [-150, 200], "nice": false},
        "axis": {"values": [-150,-100,-50,0,50,100,150,200], "format": "d", "grid": true, "gridDash": [6,4], "gridColor": "#000", "gridOpacity": 1, "gridWidth": 1,
                 "domainColor": "#000", "domainWidth": 1, "ticks": false, "labelFontSize": 13, "labelColor": "#000", "labelPadding": 6, "labelFlush": false,
                 "title": "Estimiated Disturbance(N.m)", "titleFontSize": 13, "titleFontWeight": "normal", "titleColor": "#000", "titlePadding": 8}},
  "color": {"field": "s", "type": "nominal",
            "scale": {"domain": ["Tdist-hat1","Tdist-hat2","Tdist-hat3","Tdist-hat4","Tdist-hat5"], "range": ["#0000ff","#008000","#ff0000","#00bfbf","#bf00bf"]},
            "legend": {"orient": "none", "legendX": -34, "legendY": -34, "direction": "horizontal", "title": " ", "titleOrient": "right", "titlePadding": 115, "symbolType": "M-1,0L6.8,0", "symbolSize": 85, "symbolStrokeWidth": 2,
                       "labelFontSize": 11.5, "labelColor": "#000", "labelOffset": 30, "columnPadding": 0.5, "strokeColor": "#000", "fillColor": "#fff", "padding": 7}},
  "strokeDash": {"field": "s", "type": "nominal",
            "scale": {"domain": ["Tdist-hat1","Tdist-hat2","Tdist-hat3","Tdist-hat4","Tdist-hat5"], "range": [[1,0],[5,3],[2,2],[7,3,2,3],[1,0]]},
            "legend": {"orient": "none", "legendX": -34, "legendY": -34, "direction": "horizontal", "title": " ", "titleOrient": "right", "titlePadding": 115, "symbolType": "M-1,0L6.8,0", "symbolSize": 85, "symbolStrokeWidth": 2,
                       "labelFontSize": 11.5, "labelColor": "#000", "labelOffset": 30, "columnPadding": 0.5, "strokeColor": "#000", "fillColor": "#fff", "padding": 7}}
 }},
{"transform": [{"filter": "datum.s == 'Tdist-hat5'"}],
 "mark": {"type": "point", "shape": "M-1,0L1,0M0,-1L0,1M-0.7,-0.7L0.7,0.7M-0.7,0.7L0.7,-0.7", "filled": false, "size": 30, "strokeWidth": 1.2, "color": "#bf00bf", "opacity": 1, "clip": true},
 "encoding": {"x": {"field": "t", "type": "quantitative"}, "y": {"field": "v", "type": "quantitative"}}}
]
}
